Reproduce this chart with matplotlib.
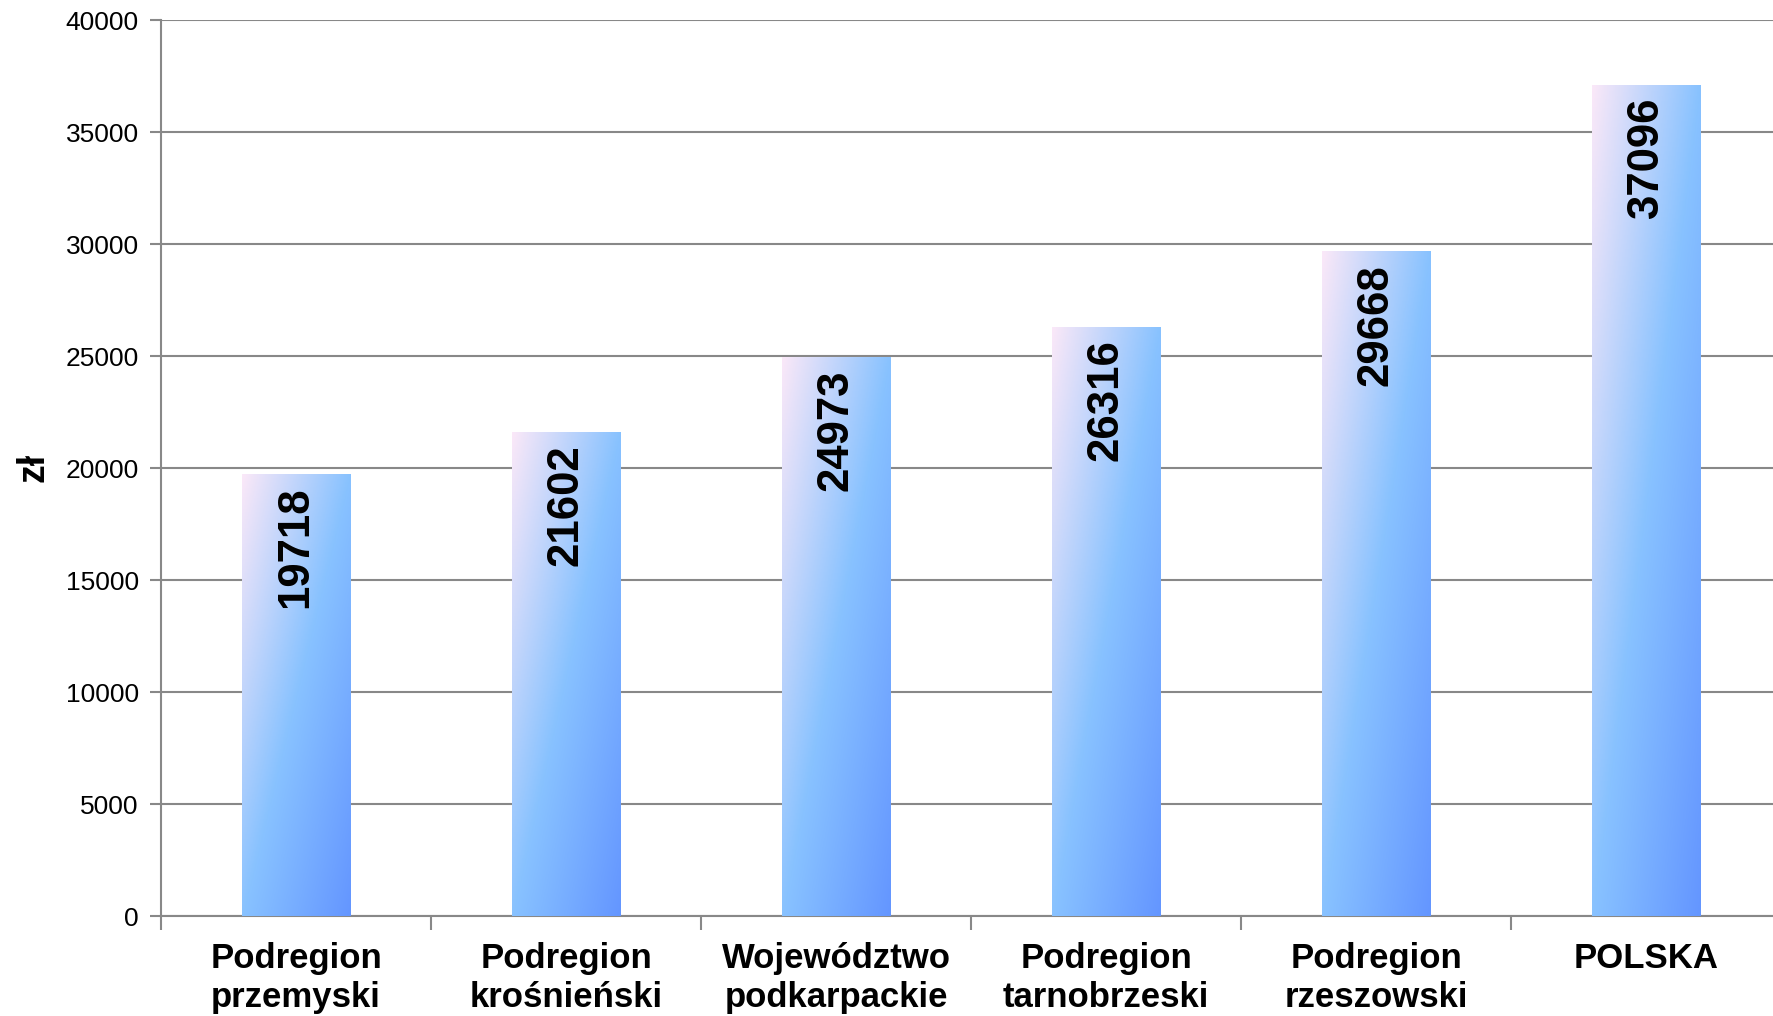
import numpy as np
import matplotlib
matplotlib.use('Agg')
import matplotlib.pyplot as plt
import matplotlib.transforms as mtransforms
from matplotlib.colors import LinearSegmentedColormap

categories = ['Podregion\nprzemyski', 'Podregion\nkrośnieński', 'Województwo\npodkarpackie',
              'Podregion\ntarnobrzeski', 'Podregion\nrzeszowski', 'POLSKA']
values = [19718, 21602, 24973, 26316, 29668, 37096]
yticks = [0, 5000, 10000, 15000, 20000, 25000, 30000, 35000, 40000]

plt.rcParams['font.family'] = ['Liberation Sans', 'DejaVu Sans']

fig = plt.figure(figsize=(17.73, 10.16), dpi=100)
ax = fig.add_axes([0.0908, 0.0984, 0.914, 0.8819])

cmap = LinearSegmentedColormap.from_list('bar', ['#fae8f8', '#88c2ff', '#6496ff'])
gx, gy = np.meshgrid(np.linspace(0, 1, 60), np.linspace(1, 0, 200))
grad = 0.5 * gx + 0.5 * (1 - gy)

x = np.arange(len(values))
w = 0.4
bars = ax.bar(x, values, width=w, color='none', edgecolor='none', zorder=3)
for b, v in zip(bars, values):
    x0 = b.get_x()
    im = ax.imshow(grad, cmap=cmap, vmin=0, vmax=1, aspect='auto',
                   extent=[x0, x0 + w, 0, v], zorder=3, interpolation='bilinear')
    im.set_clip_path(b)
    ax.annotate(str(v), (b.get_x() + w / 2, v), xytext=(0, -9), textcoords='offset points',
                rotation=90, ha='center', va='top', fontsize=31.5, fontweight='bold', zorder=4)

ax.set_xlim(-0.5, 5.5)
ax.set_ylim(0, 40000)
ax.set_yticks(yticks)
ax.yaxis.grid(True, color='#888888', linewidth=1.5, zorder=0)
ax.set_axisbelow(True)

ax.set_xticks(x)
ax.set_xticklabels(categories, fontsize=25, fontweight='bold', linespacing=1.22)
shift = mtransforms.ScaledTranslation(-0.05, 0, fig.dpi_scale_trans)
for lab in ax.get_xticklabels():
    lab.set_transform(lab.get_transform() + shift)
ax.set_xticks(np.arange(-0.5, 6, 1), minor=True)
ax.tick_params(axis='x', which='major', length=0, pad=19)
ax.tick_params(axis='x', which='minor', length=10, width=1.5, color='#888888')
ax.tick_params(axis='y', length=8, width=1.5, color='#888888', labelsize=19, pad=8)

for s in ['top', 'right']:
    ax.spines[s].set_visible(False)
for s in ['left', 'bottom']:
    ax.spines[s].set_color('#888888')
    ax.spines[s].set_linewidth(1.5)

fig.text(0.019, 0.54, 'zł', rotation=90, fontsize=27, fontweight='bold', ha='center', va='center')

fig.savefig('out.png', dpi=100)
